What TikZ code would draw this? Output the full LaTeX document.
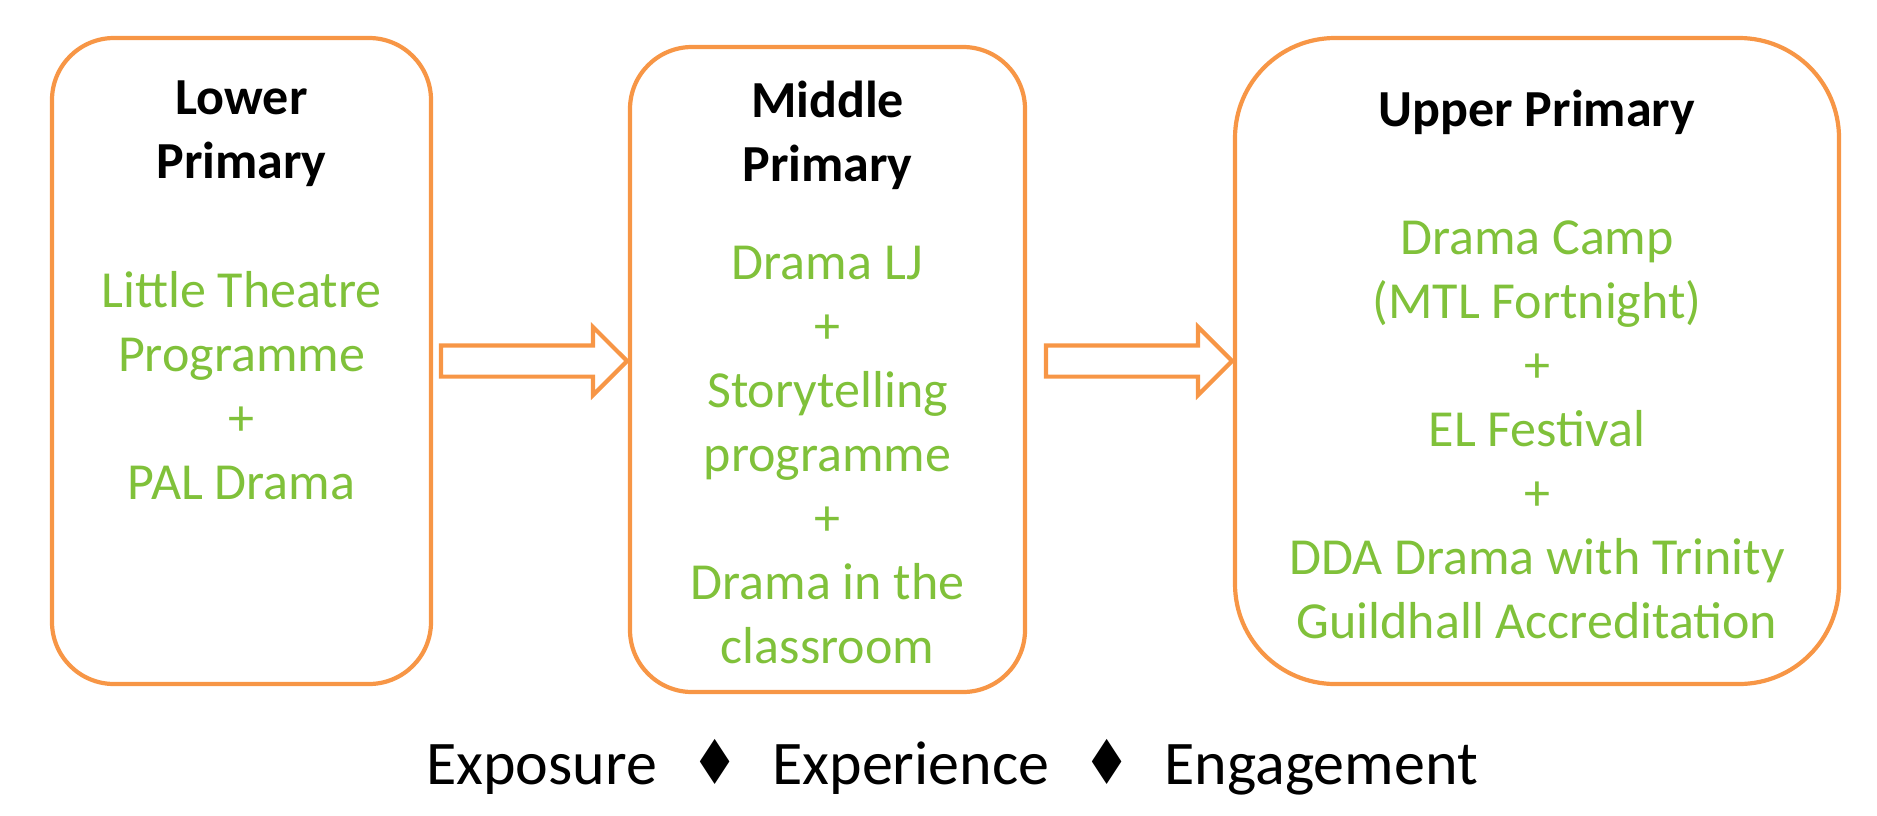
\documentclass[tikz,border=0pt]{standalone}
\usepackage{fontspec}
\setmainfont{Carlito}
\newfontfamily\suitfont{DejaVu Sans}
\usepackage{graphicx}
\usepackage{tikz}
\usetikzlibrary{positioning,shapes.arrows}
\definecolor{stageorange}{RGB}{247,150,70}
\definecolor{actgreen}{RGB}{128,193,58}
\newcommand{\dsep}{\hspace{17pt}{\suitfont\scalebox{0.85}[1]{♦}}\hspace{17pt}}

\begin{document}
\begin{tikzpicture}[
  stage/.style={draw=stageorange, line width=2.1pt, rounded corners=31pt, outer sep=0pt, inner sep=0pt},
  stagetitle/.style={font=\fontsize{26}{32}\selectfont\bfseries, align=center, inner sep=0pt},
  stagebody/.style={font=\fontsize{26}{32}\selectfont, text=actgreen, align=center, inner sep=0pt},
  blockarr/.style={single arrow, draw=stageorange, line width=2.1pt, single arrow head extend=9.25pt,
                   single arrow head indent=0pt, inner xsep=0pt, inner ysep=6.75pt,
                   minimum width=32pt, minimum height=93pt}]
  \useasboundingbox (0,0) rectangle (938.5pt,-407.5pt);
  \node[stage, minimum width=189.5pt, minimum height=323pt] (lp) at (120.75pt,-180.5pt) {};
  \node[stage, minimum width=197.5pt, minimum height=322.5pt, right=99.5pt of lp, yshift=-4.25pt] (mp) {};
  \node[stage, minimum width=302pt, minimum height=323pt, rounded corners=50pt, right=105pt of mp, yshift=4.25pt] (up) {};
  % titles and programmes
  \node[stagetitle, below=15.6pt of lp.north] (lpt) {\strut Lower\\Primary\strut};
  \node[stagebody, below=32pt of lpt] (lpb) {\strut Little Theatre\\Programme\\+\\PAL Drama\strut};
  \node[stagetitle, below=12.6pt of mp.north] (mpt) {\strut Middle\\Primary\strut};
  \node[stagebody, below=16.5pt of mpt] (mpb) {\strut Drama LJ\\+\\Storytelling\\programme\\+\\Drama in the\\classroom\strut};
  \node[stagetitle, below=21.85pt of up.north] (upt) {\strut Upper Primary\strut};
  \node[stagebody, below=31.5pt of upt] (upb) {\strut Drama Camp\\(MTL Fortnight)\\+\\EL Festival\\+\\DDA Drama with Trinity\\Guildhall Accreditation\strut};
  % block arrows
  \path (lp.east) -- (lp.east -| mp.west) node[blockarr, anchor=tip] (lm) {};
  \path (mp.east |- up.west) -- (up.west) node[blockarr, anchor=tip] (mu) {};
  \node[font=\fontsize{31}{37}\selectfont, anchor=base] (motto) at (476pt,-392pt) {Exposure\dsep Experience\dsep Engagement};
\end{tikzpicture}
\end{document}
